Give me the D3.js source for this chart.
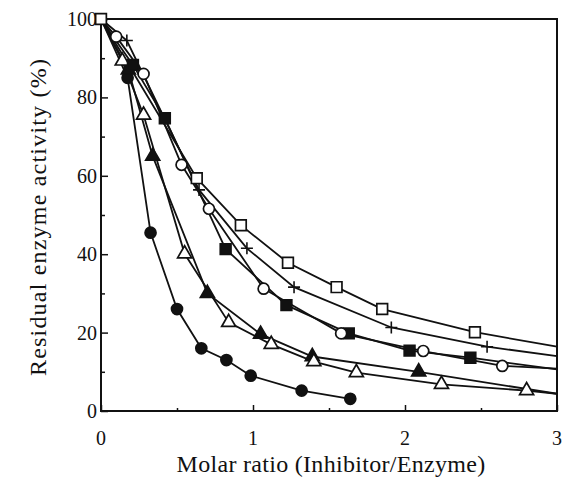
<!DOCTYPE html>
<html>
<head>
<meta charset="utf-8">
<script src="https://cdn.jsdelivr.net/npm/d3@7"></script>
<style>
  body { margin: 0; background: #fff; }
  text { font-family: "Liberation Serif", "DejaVu Serif", serif; fill: #111; }
</style>
</head>
<body>
<div id="wrapper"></div>
<script>
// data: [molar ratio, residual activity %]
const openSquares   = [[0,100],[0.63,59.4],[0.92,47.4],[1.23,37.8],[1.55,31.6],[1.85,26],[2.46,20.1]]
const plusSigns     = [[0,100],[0.17,94.5],[0.645,56.4],[0.96,41.5],[1.27,31.6],[1.91,21.3],[2.54,16.4]]
const openCircles   = [[0,100],[0.1,95.5],[0.28,86],[0.53,62.8],[0.71,51.6],[1.07,31.2],[1.58,19.8],[2.12,15.3],[2.64,11.5]]
const filledSquares = [[0,100],[0.21,88.3],[0.42,74.7],[0.82,41.3],[1.22,27],[1.63,19.8],[2.03,15.4],[2.43,13.6]]
const openTriangles = [[0,100],[0.14,89.3],[0.28,75.5],[0.55,40.1],[0.84,22.6],[1.12,17],[1.4,12.6],[1.68,9.8],[2.24,6.8],[2.8,5.2]]
const filledTriangles = [[0,100],[0.18,87],[0.34,65],[0.7,30],[1.05,19.6],[1.39,13.9],[2.09,10]]
const filledCircles = [[0,100],[0.175,85],[0.326,45.5],[0.5,26],[0.66,16],[0.825,13],[0.985,9],[1.32,5.2],[1.64,3.1]]

// where each curve meets the right frame (x = 3)
const curveEnds = {
    openSquares: 16.4, plusSigns: 14.0, openCircles: 10.8,
    filledSquares: 10.6, openTriangles: 4.4, filledTriangles: 4.4
}

const xTicks = [0, 1, 2, 3]
const yTicks = [0, 20, 40, 60, 80, 100]

async function drawChart() {
    const dimensions = {
        width: 562,
        height: 486,
        margin: { top: 19, right: 5, bottom: 75, left: 101 },
    }
    dimensions.boundedWidth = dimensions.width - dimensions.margin.left - dimensions.margin.right
    dimensions.boundedHeight = dimensions.height - dimensions.margin.top - dimensions.margin.bottom

    const wrapper = d3.select("#wrapper").append("svg")
        .attr("width", dimensions.width)
        .attr("height", dimensions.height)

    const bounds = wrapper.append("g")
        .attr("transform", `translate(${dimensions.margin.left},${dimensions.margin.top})`)

    const xScale = d3.scaleLinear().domain([0, 3]).range([0, dimensions.boundedWidth])
    const yScale = d3.scaleLinear().domain([0, 100]).range([dimensions.boundedHeight, 0])

    // frame
    bounds.append("rect")
        .attr("width", dimensions.boundedWidth)
        .attr("height", dimensions.boundedHeight)
        .attr("fill", "none")
        .attr("stroke", "#111")
        .attr("stroke-width", 2)

    // inward ticks
    const xAxis = bounds.append("g")
        .attr("transform", `translate(0,${dimensions.boundedHeight})`)
        .call(d3.axisBottom(xScale).tickValues(d3.range(0, 3.01, 0.5)).tickSizeInner(-3).tickSizeOuter(0).tickFormat(""))
    xAxis.selectAll(".tick line").filter(d => Number.isInteger(d)).attr("y2", -6)
    xAxis.select(".domain").remove()

    const yAxis = bounds.append("g")
        .call(d3.axisLeft(yScale).tickValues(d3.range(0, 101, 10)).tickSizeInner(-4).tickSizeOuter(0).tickFormat(""))
    yAxis.selectAll(".tick line").filter(d => d % 20 === 0).attr("x2", 7)
    yAxis.select(".domain").remove()
    bounds.selectAll(".tick line").attr("stroke", "#111").attr("stroke-width", 1.5)

    // tick labels
    bounds.append("g").selectAll("text")
        .data(xTicks)
        .join("text")
            .attr("x", d => xScale(d))
            .attr("y", dimensions.boundedHeight + 34)
            .attr("text-anchor", "middle")
            .style("font-size", "20px")
            .text(d => d)

    bounds.append("g").selectAll("text")
        .data(yTicks)
        .join("text")
            .attr("x", -4)
            .attr("y", d => yScale(d) + 7)
            .attr("text-anchor", "end")
            .style("font-size", "20px")
            .text(d => d)

    // axis titles
    wrapper.append("text")
        .attr("x", 331)
        .attr("y", 472)
        .attr("text-anchor", "middle")
        .style("font-size", "24px")
        .style("letter-spacing", "0.3px")
        .text("Molar ratio (Inhibitor/Enzyme)")

    wrapper.append("text")
        .attr("transform", `translate(46,${217}) rotate(-90)`)
        .attr("text-anchor", "middle")
        .style("font-size", "24px")
        .style("letter-spacing", "1.2px")
        .text("Residual enzyme activity (%)")

    const line = d3.line()
        .x(d => xScale(d[0]))
        .y(d => yScale(d[1]))

    const series = [
        { key: "openSquares", data: openSquares, shape: "square", fill: "#fff" },
        { key: "plusSigns", data: plusSigns, shape: "plus", fill: "none" },
        { key: "openCircles", data: openCircles, shape: "circle", fill: "#fff" },
        { key: "filledSquares", data: filledSquares, shape: "square", fill: "#111" },
        { key: "openTriangles", data: openTriangles, shape: "triangle", fill: "#fff" },
        { key: "filledTriangles", data: filledTriangles, shape: "triangle", fill: "#111" },
        { key: "filledCircles", data: filledCircles, shape: "circle", fill: "#111" },
    ]

    // lines first
    series.forEach(s => {
        const pts = s.key in curveEnds ? s.data.concat([[3, curveEnds[s.key]]]) : s.data
        bounds.append("path")
            .attr("d", line(pts))
            .attr("fill", "none")
            .attr("stroke", "#111")
            .attr("stroke-width", 1.8)
    })

    const symbolFor = {
        square: d3.symbol(d3.symbolSquare, 115),
        circle: d3.symbol(d3.symbolCircle, 95),
        triangle: d3.symbol(d3.symbolTriangle, 85),
    }

    series.slice().reverse().forEach(s => {
        const g = bounds.append("g")
        const pts = s.data.slice(s.key === "openSquares" ? 0 : 1)
        if (s.shape === "plus") {
            g.selectAll("path")
                .data(pts)
                .join("path")
                    .attr("d", d => {
                        const x = xScale(d[0]), y = yScale(d[1])
                        return `M${x - 6},${y}H${x + 6}M${x},${y - 6}V${y + 6}`
                    })
                    .attr("stroke", "#111")
                    .attr("stroke-width", 1.6)
        } else {
            g.selectAll("path")
                .data(pts)
                .join("path")
                    .attr("transform", d => `translate(${xScale(d[0])},${yScale(d[1])})`)
                    .attr("d", symbolFor[s.shape])
                    .attr("fill", s.fill)
                    .attr("stroke", "#111")
                    .attr("stroke-width", 1.7)
        }
    })
}
drawChart()
</script>
</body>
</html>
